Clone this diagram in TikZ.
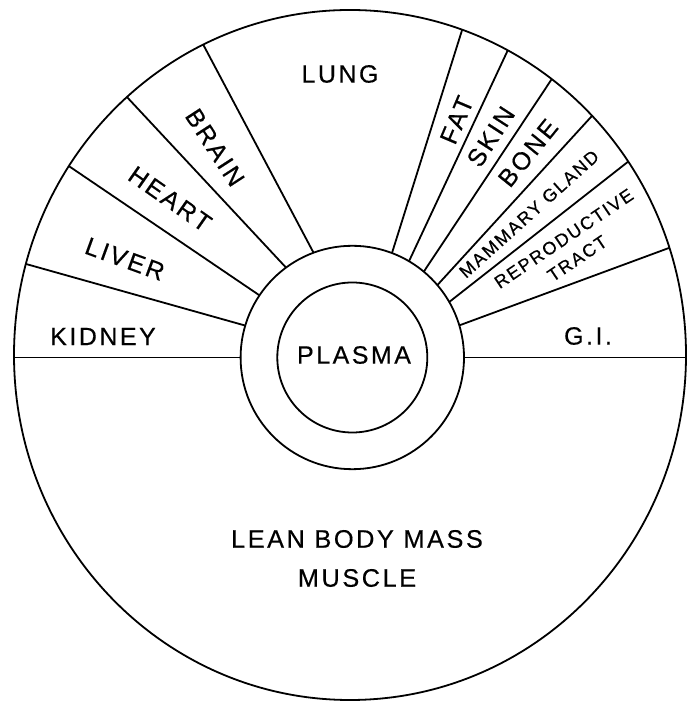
\documentclass[tikz,border=0pt]{standalone}
\usepackage{fontspec}
\setmainfont{Liberation Sans}[LetterSpace=10,FakeBold=0.4]
\begin{document}
\begin{tikzpicture}[x=0.75pt,y=0.75pt,
  rim/.style={line width=1.35pt},
  organ/.style={inner sep=0pt,font=\fontsize{18.75}{22}\selectfont},
  smallorgan/.style={inner sep=0pt,align=center,font=\fontsize{13.5}{18}\selectfont}]
\useasboundingbox (0,0) rectangle (688,702);
\fill[white] (0,0) rectangle (688,702);
\coordinate (O) at (350,347);
\coordinate (C) at (352.3,344.5);
% circles
\draw[rim] (O) ellipse [x radius=252pt, y radius=258.75pt];
\draw[rim] (C) circle [radius=83.775pt];
\draw[rim] (C) circle [radius=56.25pt];
% horizontal dividers
\path (C) ++(180:83.775pt) coordinate (hlin);
\path (C) ++(0:83.775pt) coordinate (hrin);
\coordinate (hlout) at (14,344.5);
\coordinate (hrout) at (686.5,344.5);
\draw[rim] (hlin) -- (hlout);
\draw[rim] (hrin) -- (hrout);
% radial dividers
\foreach \a/\b [count=\i] in {163.4/164.7,146.2/146.8,126.4/131.6,110.3/115.9,69.2/70.5,59.5/62.0,50.2/53.1,40.4/43.9,29.8/34.1,16.7/18.1}{
  \path (C) ++(\a:83.775pt) coordinate (in\i);
  \path (O) ++(\b:252pt and 258.75pt) coordinate (out\i);
  \draw[rim] (in\i) -- (out\i);
}
% labels
\node[organ] (lung) at (340,628) {LUNG};
\node[organ,rotate=-57] (brain) at (215,554.5) {BRAIN};
\node[organ,rotate=-35] (heart) at (170,503) {HEART};
\node[organ,rotate=-20] (liver) at (125,443) {LIVER};
\node[organ] (kidney) at (103,365.5) {KIDNEY};
\node[organ,rotate=67] (fat) at (456.7,582) {FAT};
\node[organ,rotate=57] (skin) at (490.8,565.3) {SKIN};
\node[organ,rotate=51] (bone) at (528,549) {BONE};
\node[smallorgan,rotate=42] (mammary) at (529,488) {MAMMARY GLAND};
\node[smallorgan,rotate=34] (repro) at (570.5,453.5) {REPRODUCTIVE\\TRACT};
\node[organ] (gi) at (588,366) {G.I.};
\node[organ] (plasma) at (354,347) {PLASMA};
\node[organ,align=center,font=\fontsize{19}{29.25}\selectfont] (lean) at (357,143.5) {LEAN BODY MASS\\MUSCLE};
\end{tikzpicture}
\end{document}
